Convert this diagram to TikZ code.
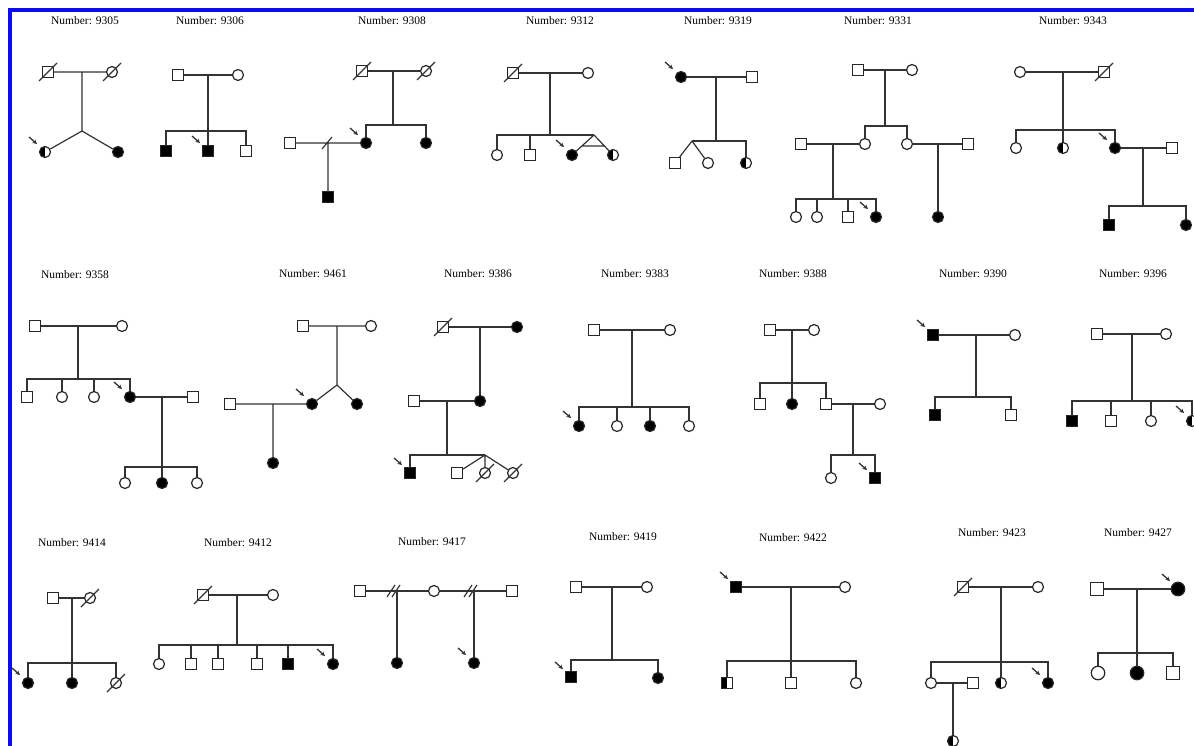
\documentclass[tikz,border=0pt]{standalone}
\usepackage{fontspec}
\setmainfont{Liberation Serif}
\usetikzlibrary{arrows.meta,calc}
\definecolor{frameblue}{RGB}{12,12,240}
\newcommand{\deceased}[1]{\draw[line] ($(#1.center)+(-9,9)$) -- ($(#1.center)+(9,-9)$);}
\newcommand{\proband}[1]{\draw[line,line width=1.3pt,-{Stealth[length=4.5pt,width=4.5pt]}] ($(#1.center)+(-16,-15)$) -- ($(#1.center)+(-8,-8)$);}
\tikzset{>=Stealth,every node/.style={font=\fontsize{11.5}{13}\selectfont},
  line/.style={line width=1.2pt,black!80},
  male/.style={draw,line width=1.2pt,black!85,rectangle,minimum size=11pt,inner sep=0pt,fill=white},
  female/.style={draw,line width=1.2pt,black!85,circle,minimum size=11pt,inner sep=0pt,fill=white},
  aff/.style={fill=black},
  half/.style={path picture={\fill[black] (path picture bounding box.south west) rectangle (path picture bounding box.north);}},
  big/.style={minimum size=13.5pt},
  title/.style={inner sep=0pt}}
\begin{document}
\begin{tikzpicture}[x=1pt,y=-1pt]
\useasboundingbox[fill=white] (0,0) rectangle (1194,746);
\draw[frameblue,line width=4pt] (10,746) -- (10,10) -- (1194,10);
% 9305
\node[title] (tA) at (85,21) {Number: 9305};
\node[male] (A1) at (48,72) {};\deceased{A1}\node[female] (A2) at (112,72) {};\deceased{A2}
\coordinate (Am) at (82,72);\coordinate (At) at (82,131);
\node[female,half] (A3) at (45,152) {};\proband{A3}\node[female,aff] (A4) at (118,152) {};
\draw[line] (A1)--(A2) (Am)--(At) (At)--(A3) (At)--(A4);
% 9306
\node[title] (tB) at (210,21) {Number: 9306};
\node[male] (B1) at (178,75) {};\node[female] (B2) at (238,75) {};
\coordinate (Bm) at (208,75);\coordinate (Bs) at (208,131);
\node[male,aff] (B3) at (166,151) {};\node[male,aff] (B4) at (208,151) {};\proband{B4}\node[male] (B5) at (246,151) {};
\draw[line] (B1)--(B2) (Bm)--(B4);\draw[line] (B3) |- (Bs) -| (B5);
% 9308
\node[title] (tC) at (392,21) {Number: 9308};
\node[male] (C1) at (362,71) {};\deceased{C1}\node[female] (C2) at (426,71) {};\deceased{C2}
\coordinate (Cm) at (393,71);\coordinate (Cs) at (393,125);
\node[female,aff] (C3) at (366,143) {};\proband{C3}\node[female,aff] (C4) at (426,143) {};
\node[male] (C5) at (290,143) {};\coordinate (Cx) at (328,143);\node[male,aff] (C6) at (328,197) {};
\draw[line] (C1)--(C2) (Cm)--(Cs);\draw[line] (C3) |- (Cs) -| (C4);
\draw[line] (C5)--(C3) (Cx)--(C6) ($(Cx)+(-6,6)$)--($(Cx)+(4,-6)$);
% 9312
\node[title] (tD) at (560,21) {Number: 9312};
\node[male] (D1) at (513,73) {};\deceased{D1}\node[female] (D2) at (588,73) {};
\coordinate (Dm) at (550,73);\coordinate (Ds) at (550,135);\coordinate (Dt) at (594,135);
\node[female] (D3) at (497,155) {};\node[male] (D4) at (530,155) {};
\node[female,aff] (D5) at (572,155) {};\proband{D5}\node[female,half] (D6) at (613,155) {};
\draw[line] (D1)--(D2) (Dm)--(Ds);\draw[line] (D3) |- (Dt);\draw[line] (D4)--(D4|-Ds);
\draw[line] (Dt)--(D5) (Dt)--(D6) ($(Dt)!.55!(D5)$)--($(Dt)!.55!(D6)$);
% 9319
\node[title] (tE) at (718,21) {Number: 9319};
\node[female,aff] (E1) at (681,77) {};\proband{E1}\node[male] (E2) at (752,77) {};
\coordinate (Em) at (716,77);\coordinate (Es) at (716,141);\coordinate (Et) at (692,141);
\node[male] (E3) at (675,163) {};\node[female] (E4) at (708,163) {};\node[female,half] (E5) at (746,163) {};
\draw[line] (E1)--(E2) (Em)--(Es);\draw[line] (Et) -| (E5);\draw[line] (Et)--(E3) (Et)--(E4);
% 9331
\node[title] (tF) at (878,21) {Number: 9331};
\node[male] (F1) at (858,70) {};\node[female] (F2) at (912,70) {};
\coordinate (Fm) at (885,70);\coordinate (Fs) at (885,126);
\node[female] (F3) at (865,144) {};\node[female] (F4) at (907,144) {};
\draw[line] (F1)--(F2) (Fm)--(Fs);\draw[line] (F3) |- (Fs) -| (F4);
\node[male] (F5) at (801,144) {};\coordinate (Fn) at (833,144);\coordinate (Fu) at (833,199);
\node[female] (F6) at (796,217) {};\node[female] (F7) at (817,217) {};\node[male] (F8) at (848,217) {};
\node[female,aff] (F9) at (876,217) {};\proband{F9}
\draw[line] (F5)--(F3) (Fn)--(Fu);\draw[line] (F6) |- (Fu) -| (F9);\draw[line] (F7)--(F7|-Fu) (F8)--(F8|-Fu);
\node[male] (F10) at (968,144) {};\coordinate (Fo) at (938,144);\node[female,aff] (F11) at (938,217) {};
\draw[line] (F4)--(F10) (Fo)--(F11);
% 9343
\node[title] (tG) at (1073,21) {Number: 9343};
\node[female] (G1) at (1020,72) {};\node[male] (G2) at (1104,72) {};\deceased{G2}
\coordinate (Gm) at (1063,72);\coordinate (Gs) at (1063,130);
\node[female] (G3) at (1016,148) {};\node[female,half] (G4) at (1063,148) {};\node[female,aff] (G5) at (1115,148) {};\proband{G5}
\draw[line] (G1)--(G2) (Gm)--(G4);\draw[line] (G3) |- (Gs) -| (G5);
\node[male] (G6) at (1172,148) {};\coordinate (Gn) at (1143,148);\coordinate (Gu) at (1143,206);
\node[male,aff] (G7) at (1109,225) {};\node[female,aff] (G8) at (1186,225) {};
\draw[line] (G5)--(G6) (Gn)--(Gu);\draw[line] (G7) |- (Gu) -| (G8);
% 9358
\node[title] (tH) at (75,275) {Number: 9358};
\node[male] (H1) at (35,326) {};\node[female] (H2) at (122,326) {};
\coordinate (Hm) at (78,326);\coordinate (Hs) at (78,379);
\node[male] (H3) at (27,397) {};\node[female] (H4) at (62,397) {};\node[female] (H5) at (94,397) {};
\node[female,aff] (H6) at (130,397) {};\proband{H6}
\draw[line] (H1)--(H2) (Hm)--(Hs);\draw[line] (H3) |- (Hs) -| (H6);\draw[line] (H4)--(H4|-Hs) (H5)--(H5|-Hs);
\node[male] (H7) at (193,397) {};\coordinate (Hn) at (162,397);\coordinate (Hu) at (162,467);
\node[female] (H8) at (125,483) {};\node[female,aff] (H9) at (162,483) {};\node[female] (H10) at (197,483) {};
\draw[line] (H6)--(H7) (Hn)--(H9);\draw[line] (H8) |- (Hu) -| (H10);
% 9461
\node[title] (tI) at (313,274) {Number: 9461};
\node[male] (I1) at (303,326) {};\node[female] (I2) at (371,326) {};
\coordinate (Im) at (337,326);\coordinate (It) at (337,385);
\node[female,aff] (I3) at (312,404) {};\proband{I3}\node[female,aff] (I4) at (357,404) {};
\node[male] (I5) at (230,404) {};\coordinate (In) at (273,404);\node[female,aff] (I6) at (273,463) {};
\draw[line] (I1)--(I2) (Im)--(It) (It)--(I3) (It)--(I4) (I5)--(I3) (In)--(I6);
% 9386
\node[title] (tJ) at (478,274) {Number: 9386};
\node[male] (J1) at (443,327) {};\deceased{J1}\node[female,aff] (J2) at (517,327) {};
\coordinate (Jm) at (480,327);\node[female,aff] (J3) at (480,401) {};
\node[male] (J4) at (414,401) {};\coordinate (Jn) at (447,401);\coordinate (Js) at (447,455);\coordinate (Jt) at (485,455);
\node[male,aff] (J5) at (410,473) {};\proband{J5}\node[male] (J6) at (457,473) {};
\node[female] (J7) at (485,473) {};\deceased{J7}\node[female] (J8) at (513,473) {};\deceased{J8}
\draw[line] (J1)--(J2) (Jm)--(J3) (J4)--(J3) (Jn)--(Js);\draw[line] (J5) |- (Jt);
\draw[line] (Jt)--(J6) (Jt)--(J7) (Jt)--(J8);
% 9383
\node[title] (tK) at (635,274) {Number: 9383};
\node[male] (K1) at (594,330) {};\node[female] (K2) at (670,330) {};
\coordinate (Km) at (632,330);\coordinate (Ks) at (632,407);
\node[female,aff] (K3) at (579,426) {};\proband{K3}\node[female] (K4) at (617,426) {};
\node[female,aff] (K5) at (650,426) {};\node[female] (K6) at (689,426) {};
\draw[line] (K1)--(K2) (Km)--(Ks);\draw[line] (K3) |- (Ks) -| (K6);\draw[line] (K4)--(K4|-Ks) (K5)--(K5|-Ks);
% 9388
\node[title] (tL) at (793,274) {Number: 9388};
\node[male] (L1) at (770,330) {};\node[female] (L2) at (814,330) {};
\coordinate (Lm) at (792,330);\coordinate (Ls) at (792,383);
\node[male] (L3) at (760,404) {};\node[female,aff] (L4) at (792,404) {};\node[male] (L5) at (826,404) {};
\draw[line] (L1)--(L2) (Lm)--(L4);\draw[line] (L3) |- (Ls) -| (L5);
\node[female] (L6) at (880,404) {};\coordinate (Ln) at (853,404);\coordinate (Lu) at (853,455);
\node[female] (L7) at (831,478) {};\node[male,aff] (L8) at (875,478) {};\proband{L8}
\draw[line] (L5)--(L6) (Ln)--(Lu);\draw[line] (L7) |- (Lu) -| (L8);
% 9390
\node[title] (tM) at (973,274) {Number: 9390};
\node[male,aff] (M1) at (933,335) {};\proband{M1}\node[female] (M2) at (1015,335) {};
\coordinate (Mm) at (976,335);\coordinate (Ms) at (976,397);
\node[male,aff] (M3) at (935,415) {};\node[male] (M4) at (1011,415) {};
\draw[line] (M1)--(M2) (Mm)--(Ms);\draw[line] (M3) |- (Ms) -| (M4);
% 9396
\node[title] (tN) at (1133,274) {Number: 9396};
\node[male] (N1) at (1097,334) {};\node[female] (N2) at (1166,334) {};
\coordinate (Nm) at (1132,334);\coordinate (Ns) at (1132,401);
\node[male,aff] (N3) at (1072,421) {};\node[male] (N4) at (1111,421) {};\node[female] (N5) at (1151,421) {};
\node[female,half] (N6) at (1192,421) {};\proband{N6}
\draw[line] (N1)--(N2) (Nm)--(Ns);\draw[line] (N3) |- (Ns) -| (N6);\draw[line] (N4)--(N4|-Ns) (N5)--(N5|-Ns);
% 9414
\node[title] (tO) at (72,543) {Number: 9414};
\node[male] (O1) at (53,598) {};\node[female] (O2) at (90,598) {};\deceased{O2}
\coordinate (Om) at (72,598);\coordinate (Os) at (72,663);
\node[female,aff] (O3) at (28,683) {};\proband{O3}\node[female,aff] (O4) at (72,683) {};\node[female] (O5) at (116,683) {};\deceased{O5}
\draw[line] (O1)--(O2) (Om)--(O4);\draw[line] (O3) |- (Os) -| (O5);
% 9412
\node[title] (tP) at (238,543) {Number: 9412};
\node[male] (P1) at (203,595) {};\deceased{P1}\node[female] (P2) at (273,595) {};
\coordinate (Pm) at (237,595);\coordinate (Ps) at (237,645);
\node[female] (P3) at (159,664) {};\node[male] (P4) at (191,664) {};\node[male] (P5) at (218,664) {};
\node[male] (P6) at (257,664) {};\node[male,aff] (P7) at (288,664) {};\node[female,aff] (P8) at (333,664) {};\proband{P8}
\draw[line] (P1)--(P2) (Pm)--(Ps);\draw[line] (P3) |- (Ps) -| (P8);
\foreach \k in {P4,P5,P6,P7} \draw[line] (\k)--(\k|-Ps);
% 9417
\node[title] (tQ) at (432,542) {Number: 9417};
\node[male] (Q1) at (360,591) {};\node[female] (Q2) at (434,591) {};\node[male] (Q3) at (512,591) {};
\coordinate (Qa) at (397,591);\coordinate (Qb) at (474,591);
\node[female,aff] (Q4) at (397,663) {};\node[female,aff] (Q5) at (474,663) {};\proband{Q5}
\draw[line] (Q1)--(Q2) (Q2)--(Q3) (Qa)--(Q4) (Qb)--(Q5);
\foreach \d in {-6,-1} {\draw[line] ($(Qa)+({\d-4},6)$)--($(Qa)+({\d+4},-6)$);\draw[line] ($(Qb)+({\d-4},6)$)--($(Qb)+({\d+4},-6)$);}
% 9419
\node[title] (tR) at (623,537) {Number: 9419};
\node[male] (R1) at (576,587) {};\node[female] (R2) at (647,587) {};
\coordinate (Rm) at (612,587);\coordinate (Rs) at (612,660);
\node[male,aff] (R3) at (571,677) {};\proband{R3}\node[female,aff] (R4) at (658,678) {};
\draw[line] (R1)--(R2) (Rm)--(Rs);\draw[line] (R3) |- (Rs) -| (R4);
% 9422
\node[title] (tS) at (793,538) {Number: 9422};
\node[male,aff] (S1) at (736,587) {};\proband{S1}\node[female] (S2) at (845,587) {};
\coordinate (Sm) at (791,587);\coordinate (Ss) at (791,661);
\node[male,half] (S3) at (727,683) {};\node[male] (S4) at (791,683) {};\node[female] (S5) at (856,683) {};
\draw[line] (S1)--(S2) (Sm)--(S4);\draw[line] (S3) |- (Ss) -| (S5);
% 9423
\node[title] (tT) at (992,533) {Number: 9423};
\node[male] (T1) at (963,587) {};\deceased{T1}\node[female] (T2) at (1038,587) {};
\coordinate (Tm) at (1001,587);\coordinate (Ts) at (1001,662);
\node[female] (T3) at (931,683) {};\node[female,half] (T4) at (1001,683) {};\node[female,aff] (T5) at (1048,683) {};\proband{T5}
\draw[line] (T1)--(T2) (Tm)--(T4);\draw[line] (T3) |- (Ts) -| (T5);
\node[male] (T6) at (973,683) {};\coordinate (Tn) at (953,683);\node[female,half] (T7) at (953,741) {};
\draw[line] (T3)--(T6) (Tn)--(T7);
% 9427
\node[title] (tU) at (1138,533) {Number: 9427};
\node[male,big] (U1) at (1097,589) {};\node[female,aff,big] (U2) at (1178,589) {};\proband{U2}
\coordinate (Um) at (1137,589);\coordinate (Us) at (1137,653);
\node[female,big] (U3) at (1098,673) {};\node[female,aff,big] (U4) at (1137,673) {};\node[male,big] (U5) at (1173,673) {};
\draw[line] (U1)--(U2) (Um)--(U4);\draw[line] (U3) |- (Us) -| (U5);
\end{tikzpicture}
\end{document}
